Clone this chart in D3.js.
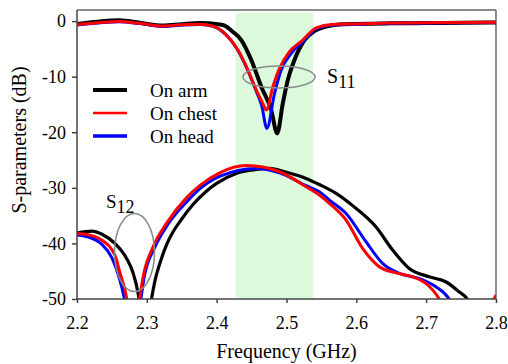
<!DOCTYPE html>
<html>
<head>
<meta charset="utf-8">
<script src="https://cdn.jsdelivr.net/npm/d3@7"></script>
<style>
  html, body { margin: 0; padding: 0; background: #fff; }
  svg { display: block; }
</style>
</head>
<body>
<svg id="chart" width="508" height="364"></svg>
<script>
// ---- data (frequency GHz, dB) ----
const seriesNames = ["On arm", "On chest", "On head"];
const seriesColors = ["#000000", "#ff0000", "#0000ff"];

const s11Arm = [[2.2,-0.5],[2.23,-0.1],[2.26,0.15],[2.29,-0.3],[2.323,-0.8],[2.35,-0.55],[2.376,-0.35],[2.404,-0.6],[2.4114,-0.8],[2.423,-1.9],[2.4353,-3.4],[2.4496,-7.0],[2.4639,-11.8],[2.4781,-16.0],[2.4867,-20.2],[2.4947,-14.8],[2.5019,-10.6],[2.5114,-7.0],[2.5257,-3.4],[2.54,-1.8],[2.5567,-1.0],[2.575,-0.6],[2.6,-0.5],[2.65,-0.4],[2.7,-0.35],[2.75,-0.3],[2.8,-0.25]];
const s11Chest = [[2.2,-0.6],[2.23,-0.3],[2.26,-0.05],[2.29,-0.4],[2.323,-0.9],[2.35,-0.65],[2.376,-0.55],[2.395,-0.9],[2.4114,-2.2],[2.4305,-5.2],[2.4447,-8.8],[2.4567,-12.4],[2.466,-14.8],[2.471,-16.0],[2.4805,-11.8],[2.49,-8.5],[2.5043,-5.5],[2.5233,-3.4],[2.5424,-1.2],[2.566,-0.6],[2.6,-0.5],[2.647,-0.36],[2.7,-0.3],[2.8,-0.2]];
const s11Head = [[2.2,-0.7],[2.23,-0.35],[2.26,-0.1],[2.29,-0.45],[2.323,-0.95],[2.35,-0.7],[2.376,-0.6],[2.395,-0.95],[2.4114,-2.2],[2.4305,-5.3],[2.4447,-8.9],[2.4567,-12.6],[2.4645,-15.2],[2.4719,-19.3],[2.4829,-13.0],[2.4924,-8.8],[2.5067,-5.8],[2.5233,-3.7],[2.5424,-1.4],[2.566,-0.7],[2.6,-0.55],[2.647,-0.4],[2.7,-0.35],[2.8,-0.25]];

const s12Arm = [[2.2,-38.1],[2.2214,-37.8],[2.235,-38.3],[2.2543,-40.0],[2.271,-42.7],[2.28,-45.2],[2.2876,-49.0],[2.292,-52.5],[2.303,-53],[2.3067,-50],[2.312,-46.5],[2.3186,-43.6],[2.328,-40.3],[2.3376,-37.9],[2.35,-35.6],[2.3661,-33.0],[2.3853,-30.6],[2.4,-29.2],[2.428,-27.4],[2.45,-26.8],[2.4757,-26.5],[2.5,-27.2],[2.528,-28.3],[2.547,-29.4],[2.571,-31.0],[2.5947,-33.2],[2.628,-37.0],[2.652,-41.2],[2.6757,-44.5],[2.7043,-46.0],[2.728,-46.9],[2.7471,-48.7],[2.759,-50],[2.77,-53]];
const s12Chest = [[2.2,-38.2],[2.215,-38.4],[2.2328,-39.2],[2.2543,-42.1],[2.2614,-45.2],[2.2714,-50],[2.275,-53],[2.286,-53],[2.2896,-50],[2.2947,-46],[2.309,-40.6],[2.3281,-36.4],[2.3567,-31.8],[2.3757,-29.6],[2.4043,-27.3],[2.4424,-26.0],[2.49,-27.1],[2.528,-29.8],[2.547,-31.3],[2.5614,-32.8],[2.5853,-35.8],[2.609,-40.9],[2.6329,-44.2],[2.6567,-45.3],[2.6804,-46.0],[2.6996,-47.2],[2.7186,-50],[2.73,-53],[2.76,-56],[2.785,-53],[2.795,-50.6],[2.8,-49.3]];
const s12Head = [[2.2,-38.5],[2.215,-38.8],[2.235,-40.1],[2.25,-42.6],[2.26,-46],[2.268,-50],[2.272,-53],[2.287,-53],[2.2914,-50],[2.296,-46.2],[2.311,-40.8],[2.33,-36.6],[2.358,-32.4],[2.3757,-30.2],[2.405,-27.9],[2.4567,-26.5],[2.49,-27.3],[2.528,-29.6],[2.547,-30.7],[2.5614,-32.2],[2.5853,-34.6],[2.6139,-39.7],[2.6376,-43.6],[2.6614,-45.4],[2.69,-46.3],[2.7139,-47.8],[2.7329,-50],[2.745,-53]];

const xTicks = [2.2, 2.3, 2.4, 2.5, 2.6, 2.7, 2.8];
const yTicks = [0, -10, -20, -30, -40, -50];
const band = [2.427, 2.538];
const bandTopDb = 1.5;

const FONT = '"Liberation Serif"';

// ---- layout ----
const svg = d3.select("#chart");
const x = d3.scaleLinear().domain([2.2, 2.8]).range([77, 496]);
const y = d3.scaleLinear().domain([-50, 2]).range([299, 10]);

svg.append("defs").append("clipPath").attr("id", "plotclip")
  .append("rect").attr("x", x(2.2)).attr("y", y(2)).attr("width", x(2.8) - x(2.2)).attr("height", y(-50) - y(2));

svg.append("rect")
  .attr("x", x(band[0])).attr("y", y(bandTopDb))
  .attr("width", x(band[1]) - x(band[0])).attr("height", y(-50) - y(bandTopDb))
  .attr("fill", "#dcf9dc");

svg.append("line").attr("x1", x(2.2)).attr("x2", x(2.8)).attr("y1", y(2)).attr("y2", y(2))
  .attr("stroke", "#666").attr("stroke-width", 1.5);
svg.append("line").attr("x1", x(2.8)).attr("x2", x(2.8)).attr("y1", y(2)).attr("y2", y(-50))
  .attr("stroke", "#666").attr("stroke-width", 1.5);

const line = d3.line().x(d => x(d[0])).y(d => y(d[1])).curve(d3.curveMonotoneX);
const plot = svg.append("g").attr("clip-path", "url(#plotclip)");

const curves = [
  [s12Arm, 0, 3.2], [s12Head, 2, 3], [s12Chest, 1, 3],
  [s11Arm, 0, 4], [s11Head, 2, 3], [s11Chest, 1, 3]
];
curves.forEach(([data, ci, w]) => {
  plot.append("path").datum(data).attr("d", line)
    .attr("fill", "none").attr("stroke", seriesColors[ci])
    .attr("stroke-width", w).attr("stroke-linejoin", "round");
});

svg.append("ellipse").attr("cx", 279).attr("cy", 77).attr("rx", 36).attr("ry", 11)
  .attr("fill", "none").attr("stroke", "#8a8a8a").attr("stroke-width", 1.5);
svg.append("ellipse").attr("cx", 134.5).attr("cy", 252.5).attr("rx", 20).attr("ry", 39)
  .attr("fill", "none").attr("stroke", "#8a8a8a").attr("stroke-width", 1.5);

const s11 = svg.append("text").attr("x", 327).attr("y", 83).attr("font-size", 20).style("font-family", FONT);
s11.append("tspan").text("S");
s11.append("tspan").attr("dy", 5).attr("font-size", 18).text("11");
const s12 = svg.append("text").attr("x", 106).attr("y", 208).attr("font-size", 19).style("font-family", FONT);
s12.append("tspan").text("S");
s12.append("tspan").attr("dy", 5).attr("font-size", 18).text("12");

const yAxis = svg.append("g").attr("transform", `translate(${x(2.2)},0)`)
  .call(d3.axisLeft(y).tickValues(yTicks).tickSize(5).tickPadding(6).tickFormat(d => String(d)));
const xAxis = svg.append("g").attr("transform", `translate(0,${y(-50)})`)
  .call(d3.axisBottom(x).tickValues(xTicks).tickSize(4).tickPadding(13).tickFormat(d3.format(".1f")));
[yAxis, xAxis].forEach(g => {
  g.select(".domain").attr("stroke", "#444").attr("stroke-width", 1.5);
  g.selectAll(".tick line").attr("stroke", "#444").attr("stroke-width", 1.5);
  g.selectAll(".tick text").attr("fill", "#000").attr("font-size", 18).style("font-family", FONT);
});
yAxis.select(".domain").attr("d", `M0,${y(2)}V${y(-50)}`);
xAxis.select(".domain").attr("d", `M${x(2.2)},0H${x(2.8)}`);

svg.append("text").attr("x", (x(2.2) + x(2.8)) / 2).attr("y", 358)
  .attr("text-anchor", "middle").attr("font-size", 20).style("font-family", FONT).text("Frequency (GHz)");
svg.append("text").attr("transform", "translate(26,140) rotate(-90)")
  .attr("text-anchor", "middle").attr("font-size", 20).style("font-family", FONT).text("S-parameters (dB)");

const legW = [4, 2.6, 3.5];
seriesNames.forEach((name, i) => {
  const ly = 90 + i * 23;
  svg.append("line").attr("x1", 93).attr("x2", 127).attr("y1", ly).attr("y2", ly)
    .attr("stroke", seriesColors[i]).attr("stroke-width", legW[i]);
  svg.append("text").attr("x", 150).attr("y", ly + 6.5).attr("font-size", 19).style("font-family", FONT).text(name);
});
</script>
</body>
</html>
